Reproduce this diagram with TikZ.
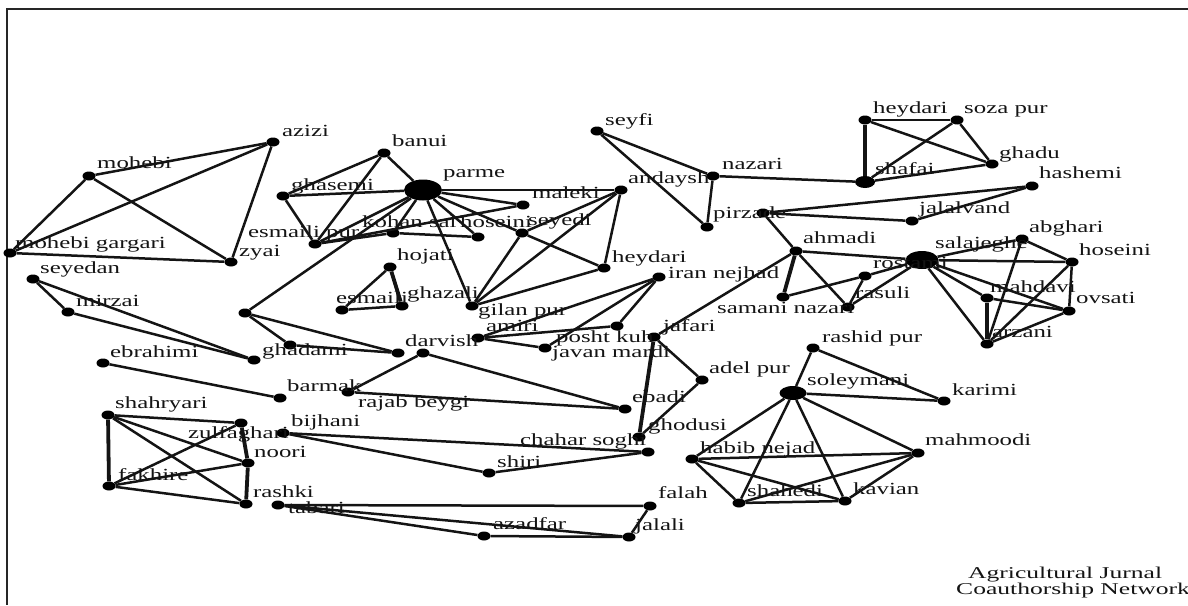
\documentclass[tikz,border=0pt]{standalone}
\usepackage{fontspec}
\setmainfont{Liberation Serif}
\usetikzlibrary{shapes.geometric}
\newcommand\sx[1]{\scalebox{1.46}[1]{#1}}
\tikzset{
  dot/.style={ellipse, fill=black, draw=none, inner sep=0pt, minimum width=13pt, minimum height=9pt},
  lab/.style={anchor=base west, inner sep=0pt, font=\fontsize{17}{17}\selectfont, text=black!92},
  lnk/.style={line width=2.5pt, draw=black!92},
  lnkb/.style={line width=3.8pt, draw=black!92},
}
\begin{document}
\begin{tikzpicture}[x=1pt,y=-1pt]
\useasboundingbox (0,0) rectangle (1188,605);
\draw[line width=2pt, black!85] (1188,9) -- (7,9) -- (7,605);

% ---------- dots ----------
\node[dot] (azizi) at (273,142) {};
\node[dot] (mohebi) at (89,176) {};
\node[dot] (mgargari) at (10,253) {};
\node[dot] (zyai) at (231,262) {};
\node[dot] (seyedan) at (33,279) {};
\node[dot] (mirzai) at (68,312) {};
\node[dot] (ghadami) at (254,360) {};
\node[dot] (ebrahimi) at (103,363) {};
\node[dot] (barmak) at (280,398) {};
\node[dot] (rajab) at (348,392) {};
\node[dot] (u1) at (245,313) {};
\node[dot] (u3) at (290,345) {};
\node[dot] (darvish) at (398,353) {};
\node[dot] (u4) at (423,353) {};
\node[dot] (ebadi) at (625,409) {};

\node[dot] (banui) at (384,153) {};
\node[dot, minimum width=38pt, minimum height=21pt] (parme) at (423,190) {};
\node[dot] (ghasemi) at (283,196) {};
\node[dot] (esmpur) at (315,244) {};
\node[dot] (kohan) at (393,233) {};
\node[dot] (hoseinia) at (478,237) {};
\node[dot] (seyedi) at (522,233) {};
\node[dot] (maleki) at (523,205) {};
\node[dot] (andaysh) at (621,190) {};
\node[dot] (heydaria) at (604,268) {};
\node[dot] (gilan) at (472,306) {};
\node[dot] (hojati) at (390,267) {};
\node[dot] (esmaili) at (342,310) {};
\node[dot] (ghazali) at (402,306) {};

\node[dot] (seyfi) at (597,131) {};
\node[dot] (nazari) at (713,176) {};
\node[dot] (pirzade) at (707,227) {};
\node[dot] (u2) at (763,213) {};
\node[dot] (hashemi) at (1032,186) {};
\node[dot] (jalalvand) at (912,221) {};
\node[dot] (ahmadi) at (796,251) {};
\node[dot] (samani) at (783,297) {};
\node[dot] (rasuli) at (848,307) {};
\node[dot] (rostami) at (865,276) {};
\node[dot, minimum width=33pt, minimum height=18pt] (salajeghe) at (922,260) {};
\node[dot] (abghari) at (1022,239) {};
\node[dot] (hoseinib) at (1072,262) {};
\node[dot] (mahdavi) at (987,298) {};
\node[dot] (ovsati) at (1069,311) {};
\node[dot] (arzani) at (987,344) {};
\node[dot] (jafari) at (654,337) {};
\node[dot] (adelpur) at (702,380) {};
\node[dot] (ghodusi) at (639,437) {};

\node[dot] (heydarib) at (865,120) {};
\node[dot] (sozapur) at (957,120) {};
\node[dot] (ghadu) at (992,164) {};
\node[dot, minimum width=20pt, minimum height=12pt] (shafai) at (865,182) {};

\node[dot] (irannejhad) at (659,277) {};
\node[dot] (amiri) at (478,338) {};
\node[dot] (poshtkuh) at (617,326) {};
\node[dot] (javan) at (545,348) {};

\node[dot] (shahryari) at (108,415) {};
\node[dot] (zulfaghari) at (241,423) {};
\node[dot] (noori) at (248,463) {};
\node[dot] (fakhire) at (109,486) {};
\node[dot] (rashki) at (246,504) {};
\node[dot] (bijhani) at (283,433) {};
\node[dot] (tabari) at (278,505) {};
\node[dot] (chahar) at (648,452) {};
\node[dot] (shiri) at (489,473) {};
\node[dot] (falah) at (650,506) {};
\node[dot] (azadfar) at (484,536) {};
\node[dot] (jalali) at (629,537) {};

\node[dot] (rashidpur) at (813,348) {};
\node[dot, minimum width=27pt, minimum height=14pt] (soleymani) at (793,393) {};
\node[dot] (karimi) at (944,401) {};
\node[dot] (habib) at (692,459) {};
\node[dot] (mahmoodi) at (918,453) {};
\node[dot] (shahedi) at (739,503) {};
\node[dot] (kavian) at (845,501) {};

% ---------- connectors ----------
\draw[lnk] (mohebi) -- (azizi);
\draw[lnk] (mohebi) -- (mgargari);
\draw[lnk] (mohebi) -- (zyai);
\draw[lnk] (mgargari) -- (azizi);
\draw[lnk] (mgargari) -- (zyai);
\draw[lnk] (azizi) -- (zyai);
\draw[lnk] (seyedan) -- (mirzai);
\draw[lnk] (seyedan) -- (ghadami);
\draw[lnk] (mirzai) -- (ghadami);
\draw[lnk] (ebrahimi) -- (barmak);
\draw[lnk] (u1) -- (parme);
\draw[lnk] (u1) -- (u3);
\draw[lnk] (u1) -- (darvish);
\draw[lnk] (u3) -- (darvish);
\draw[lnk] (rajab) -- (u4);
\draw[lnk] (rajab) -- (ebadi);
\draw[lnk] (u4) -- (ebadi);

\draw[lnk] (parme) -- (banui);
\draw[lnk] (parme) -- (ghasemi);
\draw[lnk] (parme) -- (andaysh);
\draw[lnk] (parme) -- (maleki);
\draw[lnk] (parme) -- (esmpur);
\draw[lnk] (parme) -- (kohan);
\draw[lnk] (parme) -- (hoseinia);
\draw[lnk] (parme) -- (seyedi);
\draw[lnk] (parme) -- (gilan);
\draw[lnk] (banui) -- (ghasemi);
\draw[lnk] (banui) -- (esmpur);
\draw[lnk] (ghasemi) -- (esmpur);
\draw[lnk] (esmpur) -- (kohan);
\draw[lnk] (esmpur) -- (maleki);
\draw[lnk] (kohan) -- (hoseinia);
\draw[lnk] (seyedi) -- (heydaria);
\draw[lnk] (seyedi) -- (andaysh);
\draw[lnk] (seyedi) -- (gilan);
\draw[lnk] (andaysh) -- (heydaria);
\draw[lnk] (andaysh) -- (gilan);
\draw[lnk] (gilan) -- (heydaria);
\draw[lnk] (hojati) -- (esmaili);
\draw[lnkb] (hojati) -- (ghazali);
\draw[lnk] (esmaili) -- (ghazali);

\draw[lnk] (seyfi) -- (nazari);
\draw[lnk] (seyfi) -- (pirzade);
\draw[lnk] (nazari) -- (pirzade);
\draw[lnk] (nazari) -- (shafai);
\draw[lnk] (u2) -- (hashemi);
\draw[lnk] (u2) -- (jalalvand);
\draw[lnk] (hashemi) -- (jalalvand);
\draw[lnk] (u2) -- (ahmadi);
\draw[lnk] (ahmadi) -- (salajeghe);
\draw[lnkb] (ahmadi) -- (samani);
\draw[lnk] (ahmadi) -- (rasuli);
\draw[lnk] (ahmadi) -- (jafari);
\draw[lnk] (samani) -- (rostami);
\draw[lnk] (rasuli) -- (rostami);
\draw[lnk] (rasuli) -- (salajeghe);
\draw[lnk] (rostami) -- (salajeghe);
\draw[lnk] (salajeghe) -- (abghari);
\draw[lnk] (salajeghe) -- (hoseinib);
\draw[lnk] (salajeghe) -- (mahdavi);
\draw[lnk] (salajeghe) -- (ovsati);
\draw[lnk] (salajeghe) -- (arzani);
\draw[lnk] (abghari) -- (hoseinib);
\draw[lnk] (abghari) -- (arzani);
\draw[lnk] (hoseinib) -- (ovsati);
\draw[lnk] (hoseinib) -- (arzani);
\draw[lnkb] (mahdavi) -- (arzani);
\draw[lnk] (mahdavi) -- (ovsati);
\draw[lnk] (ovsati) -- (arzani);

\draw[lnk] (heydarib) -- (sozapur);
\draw[lnkb] (heydarib) -- (shafai);
\draw[lnk] (heydarib) -- (ghadu);
\draw[lnk] (sozapur) -- (shafai);
\draw[lnk] (sozapur) -- (ghadu);
\draw[lnk] (shafai) -- (ghadu);

\draw[lnk] (irannejhad) -- (amiri);
\draw[lnk] (irannejhad) -- (javan);
\draw[lnk] (irannejhad) -- (poshtkuh);
\draw[lnk] (amiri) -- (poshtkuh);
\draw[lnk] (amiri) -- (javan);
\draw[lnkb] (jafari) -- (ghodusi);
\draw[lnk] (jafari) -- (adelpur);
\draw[lnk] (adelpur) -- (ghodusi);

\draw[lnk] (shahryari) -- (zulfaghari);
\draw[lnk] (shahryari) -- (noori);
\draw[lnk] (shahryari) -- (rashki);
\draw[lnkb] (shahryari) -- (fakhire);
\draw[lnk] (zulfaghari) -- (fakhire);
\draw[lnkb] (zulfaghari) -- (noori);
\draw[lnkb] (noori) -- (rashki);
\draw[lnk] (noori) -- (fakhire);
\draw[lnk] (fakhire) -- (rashki);
\draw[lnk] (bijhani) -- (chahar);
\draw[lnk] (bijhani) -- (shiri);
\draw[lnk] (chahar) -- (shiri);
\draw[lnk] (tabari) -- (falah);
\draw[lnk] (tabari) -- (jalali);
\draw[lnk] (tabari) -- (azadfar);
\draw[lnk] (falah) -- (jalali);
\draw[lnk] (azadfar) -- (jalali);

\draw[lnk] (rashidpur) -- (soleymani);
\draw[lnk] (rashidpur) -- (karimi);
\draw[lnk] (soleymani) -- (karimi);
\draw[lnk] (soleymani) -- (habib);
\draw[lnk] (soleymani) -- (shahedi);
\draw[lnk] (soleymani) -- (kavian);
\draw[lnk] (soleymani) -- (mahmoodi);
\draw[lnk] (habib) -- (mahmoodi);
\draw[lnk] (habib) -- (shahedi);
\draw[lnk] (habib) -- (kavian);
\draw[lnk] (shahedi) -- (kavian);
\draw[lnk] (shahedi) -- (mahmoodi);
\draw[lnk] (kavian) -- (mahmoodi);

% ---------- labels ----------
\node[lab] (t01) at (282,136) {\sx{azizi}};
\node[lab] (t02) at (97,168) {\sx{mohebi}};
\node[lab] (t03) at (15,248) {\sx{mohebi gargari}};
\node[lab] (t04) at (239,256) {\sx{zyai}};
\node[lab] (t05) at (40,273) {\sx{seyedan}};
\node[lab] (t06) at (76,306) {\sx{mirzai}};
\node[lab] (t07) at (262,355) {\sx{ghadami}};
\node[lab] (t08) at (110,357) {\sx{ebrahimi}};
\node[lab] (t09) at (287,391) {\sx{barmak}};
\node[lab] (t10) at (358,407) {\sx{rajab beygi}};
\node[lab] (t11) at (405,346) {\sx{darvish}};
\node[lab] (t12) at (632,402) {\sx{ebadi}};
\node[lab] (t13) at (392,146) {\sx{banui}};
\node[lab] (t14) at (443,177) {\sx{parme}};
\node[lab] (t15) at (291,190) {\sx{ghasemi}};
\node[lab] (t16) at (248,237) {\sx{esmaili pur}};
\node[lab] (t17) at (362,227) {\sx{kohan sal}};
\node[lab] (t18) at (460,227) {\sx{hoseini}};
\node[lab] (t19) at (528,225) {\sx{seyedi}};
\node[lab] (t20) at (532,198) {\sx{maleki}};
\node[lab] (t21) at (628,183) {\sx{andaysh}};
\node[lab] (t22) at (612,262) {\sx{heydari}};
\node[lab] (t23) at (478,315) {\sx{gilan pur}};
\node[lab] (t24) at (397,260) {\sx{hojati}};
\node[lab] (t25) at (336,303) {\sx{esmaili}};
\node[lab] (t26) at (407,298) {\sx{ghazali}};
\node[lab] (t27) at (605,125) {\sx{seyfi}};
\node[lab] (t28) at (722,169) {\sx{nazari}};
\node[lab] (t29) at (713,218) {\sx{pirzade}};
\node[lab] (t30) at (1039,178) {\sx{hashemi}};
\node[lab] (t31) at (919,213) {\sx{jalalvand}};
\node[lab] (t32) at (803,243) {\sx{ahmadi}};
\node[lab] (t33) at (717,313) {\sx{samani nazari}};
\node[lab] (t34) at (855,298) {\sx{rasuli}};
\node[lab] (t35) at (873,268) {\sx{rostami}};
\node[lab] (t36) at (935,248) {\sx{salajeghe}};
\node[lab] (t37) at (1029,232) {\sx{abghari}};
\node[lab] (t38) at (1079,255) {\sx{hoseini}};
\node[lab] (t39) at (990,292) {\sx{mahdavi}};
\node[lab] (t40) at (1076,303) {\sx{ovsati}};
\node[lab] (t41) at (992,337) {\sx{arzani}};
\node[lab] (t42) at (663,331) {\sx{jafari}};
\node[lab] (t43) at (709,373) {\sx{adel pur}};
\node[lab] (t44) at (648,430) {\sx{ghodusi}};
\node[lab] (t45) at (873,113) {\sx{heydari}};
\node[lab] (t46) at (964,113) {\sx{soza pur}};
\node[lab] (t47) at (999,158) {\sx{ghadu}};
\node[lab] (t48) at (875,174) {\sx{shafai}};
\node[lab] (t49) at (668,278) {\sx{iran nejhad}};
\node[lab] (t50) at (486,331) {\sx{amiri}};
\node[lab] (t51) at (556,342) {\sx{posht kuh}};
\node[lab] (t52) at (552,357) {\sx{javan mardi}};
\node[lab] (t53) at (115,408) {\sx{shahryari}};
\node[lab] (t54) at (188,438) {\sx{zulfaghari}};
\node[lab] (t55) at (254,457) {\sx{noori}};
\node[lab] (t56) at (118,480) {\sx{fakhire}};
\node[lab] (t57) at (253,497) {\sx{rashki}};
\node[lab] (t58) at (291,426) {\sx{bijhani}};
\node[lab] (t59) at (288,513) {\sx{tabari}};
\node[lab] (t60) at (520,445) {\sx{chahar soghi}};
\node[lab] (t61) at (497,467) {\sx{shiri}};
\node[lab] (t62) at (658,498) {\sx{falah}};
\node[lab] (t63) at (493,529) {\sx{azadfar}};
\node[lab] (t64) at (635,530) {\sx{jalali}};
\node[lab] (t65) at (822,342) {\sx{rashid pur}};
\node[lab] (t66) at (807,385) {\sx{soleymani}};
\node[lab] (t67) at (952,395) {\sx{karimi}};
\node[lab] (t68) at (700,453) {\sx{habib nejad}};
\node[lab] (t69) at (925,445) {\sx{mahmoodi}};
\node[lab] (t70) at (747,496) {\sx{shahedi}};
\node[lab] (t71) at (853,494) {\sx{kavian}};

\node[lab, font=\fontsize{16.5}{16.5}\selectfont] (f1) at (968,578) {\scalebox{1.55}[1]{Agricultural Jurnal}};
\node[lab, font=\fontsize{16.5}{16.5}\selectfont] (f2) at (956,594) {\scalebox{1.55}[1]{Coauthorship Network}};
\end{tikzpicture}
\end{document}
